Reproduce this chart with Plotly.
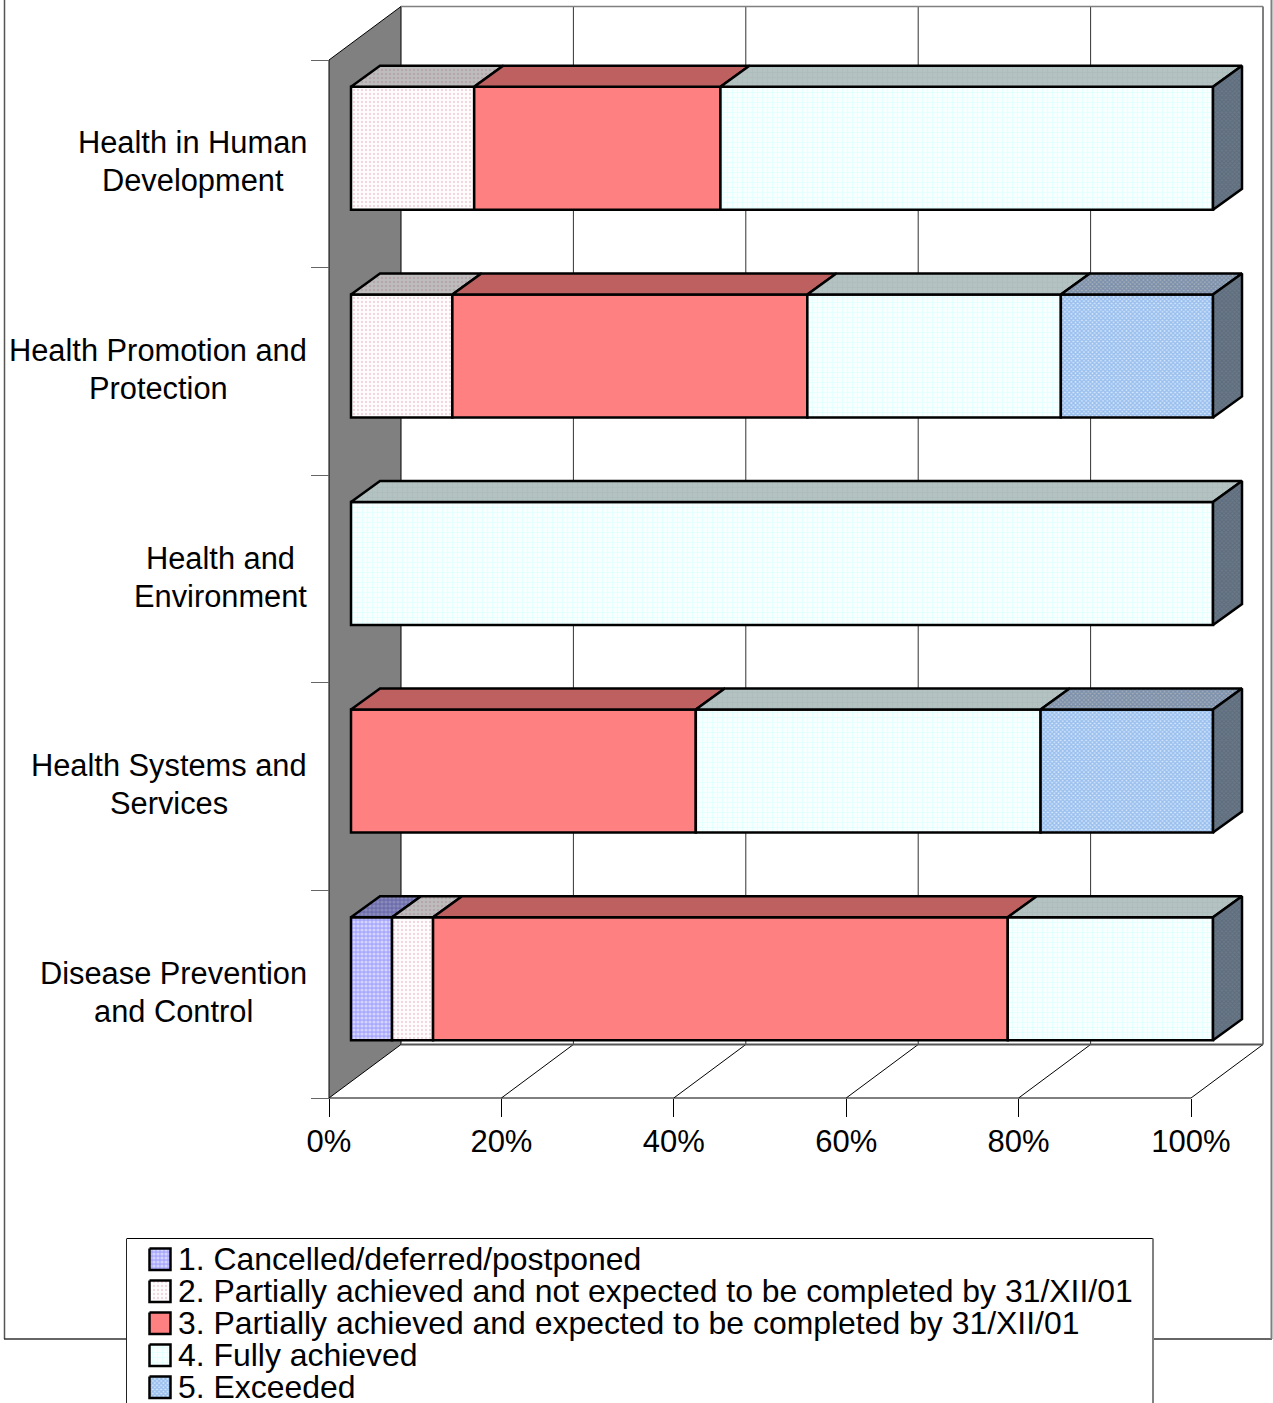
import plotly.graph_objects as go

# Categories listed from the bottom band upwards
categories = [
    "Disease Prevention<br>and Control",
    "Health Systems and<br>Services",
    "Health and<br>Environment",
    "Health Promotion and<br>Protection",
    "Health in Human<br>Development",
]
# Horizontal centre of each two-line label, in page pixels
label_centres_px = [173.5, 169, 220.5, 158, 192.5]
series_names = [
    "1. Cancelled/deferred/postponed",
    "2. Partially achieved and not expected to be completed by 31/XII/01",
    "3. Partially achieved and expected to be completed by 31/XII/01",
    "4. Fully achieved",
    "5. Exceeded",
]
cancelled = [4.76, None, None, None, None]
partial_not_expected = [4.76, None, None, 11.76, 14.29]
partial_expected = [66.67, 40.0, None, 41.18, 28.57]
fully_achieved = [23.81, 40.0, 100.0, 29.41, 57.14]
exceeded = [None, 20.0, None, 17.65, None]
x_ticks = [0, 20, 40, 60, 80, 100]

W, H = 1273, 1403
PX_PER_PCT = 8.62
PX_PER_BAND = 207.6
X0_PX, Y0_PX = 329, 1098
FONT = "Liberation Sans"
FS = 31
LEGEND_FS = 31.93
LABEL_FS = 30.8


def px_x(px):
    return (px - X0_PX) / PX_PER_PCT


def px_y(py):
    return (Y0_PX - py) / PX_PER_BAND - 0.5


WALL_DX = 72 / PX_PER_PCT
WALL_DY = 53.5 / PX_PER_BAND
FRONT_DX = 22 / PX_PER_PCT
BAR_DX = 29 / PX_PER_PCT
BAR_DY = 21 / PX_PER_BAND
BAR_H = 123 / PX_PER_BAND
BAR_SHIFT = 15.5 / PX_PER_BAND

styles = [
    dict(front=dict(shape=".", bgcolor="#a8a8ff", fgcolor="#ffffff", size=4, solidity=0.5),
         top=dict(shape=".", bgcolor="#6c6cae", fgcolor="#a8a8c4", size=4, solidity=0.5),
         side=dict(shape="x", bgcolor="#666688", fgcolor="#4a4a70", size=3, solidity=0.5)),
    dict(front=dict(shape=".", bgcolor="#fefcfc", fgcolor="#e4aebf", size=4, solidity=0.25),
         top=dict(shape=".", bgcolor="#bdbdbd", fgcolor="#ad8e9a", size=4, solidity=0.3),
         side=dict(shape="x", bgcolor="#707070", fgcolor="#606060", size=3, solidity=0.5)),
    dict(front=dict(shape="", bgcolor="#ff8080"),
         top=dict(shape="", bgcolor="#bf6060"),
         side=dict(shape="", bgcolor="#804040")),
    dict(front=dict(shape="+", bgcolor="#f8ffff", fgcolor="#ccffff", size=5, solidity=0.3),
         top=dict(shape="+", bgcolor="#b4c2c2", fgcolor="#a4b8b6", size=5, solidity=0.3),
         side=dict(shape="x", bgcolor="#6c7884", fgcolor="#48607c", size=3, solidity=0.5)),
    dict(front=dict(shape="x", bgcolor="#d8e8fb", fgcolor="#5a96e2", size=3, solidity=0.7),
         top=dict(shape="x", bgcolor="#aab0b8", fgcolor="#4c70a0", size=3, solidity=0.7),
         side=dict(shape="x", bgcolor="#6c7884", fgcolor="#48607c", size=3, solidity=0.5)),
]
all_series = [cancelled, partial_not_expected, partial_expected, fully_achieved, exceeded]

fig = go.Figure()

# Front faces are ordinary horizontal bars stacked from a running base
running = [0.0] * len(categories)
faces_top = [[[], []] for _ in all_series]
faces_side = [[[], []] for _ in all_series]
y_centres = [i + BAR_SHIFT for i in range(len(categories))]

for s, values in enumerate(all_series):
    bases = [r + FRONT_DX for r in running]
    fig.add_trace(go.Bar(
        orientation="h", x=values, y=y_centres, base=bases, width=BAR_H,
        name=series_names[s], showlegend=False,
        marker=dict(color=styles[s]["front"]["bgcolor"],
                    line=dict(color="black", width=2.5),
                    pattern=styles[s]["front"]),
    ))
    for i, v in enumerate(values):
        if v is None:
            continue
        x1, x2 = bases[i], bases[i] + v
        top = y_centres[i] + BAR_H / 2
        bottom = y_centres[i] - BAR_H / 2
        # Receding top face of this segment
        faces_top[s][0] += [x1, x1 + BAR_DX, x2 + BAR_DX, x2, x1, None]
        faces_top[s][1] += [top, top + BAR_DY, top + BAR_DY, top, top, None]
        # Right-hand end cap only where the stack reaches its full length
        later = [all_series[k][i] for k in range(s + 1, len(all_series))]
        if all(w is None for w in later):
            faces_side[s][0] += [x2, x2 + BAR_DX, x2 + BAR_DX, x2, x2, None]
            faces_side[s][1] += [top, top + BAR_DY, bottom + BAR_DY, bottom, top, None]
        running[i] += v

for s in range(len(all_series)):
    for faces, key in ((faces_top, "top"), (faces_side, "side")):
        xs, ys = faces[s]
        if not xs:
            continue
        st = styles[s][key]
        fig.add_trace(go.Scatter(
            x=xs, y=ys, mode="lines", fill="toself", showlegend=False, hoverinfo="skip",
            fillcolor=st["bgcolor"], fillpattern=st,
            line=dict(color="black", width=2.5),
        ))

shapes = []


def add_line(x0, y0, x1, y1, color="black", width=1):
    shapes.append(dict(type="line", layer="below", xref="x", yref="y",
                       x0=x0, y0=y0, x1=x1, y1=y1, line=dict(color=color, width=width)))


# Outer frame of the chart area, partly hidden by the legend box
add_line(px_x(4.5), px_y(-2), px_x(4.5), px_y(1339), "#555555", 1.5)
add_line(px_x(4), px_y(1339), px_x(1272), px_y(1339), "#333333", 1.5)
add_line(px_x(1271.5), px_y(-2), px_x(1271.5), px_y(1339), "#808080", 2)

# Side wall
y_lo, y_hi = -0.5, len(categories) - 0.5
shapes.append(dict(
    type="path", layer="below", xref="x", yref="y",
    path=f"M 0 {y_lo} L 0 {y_hi} L {WALL_DX} {y_hi + WALL_DY} L {WALL_DX} {y_lo + WALL_DY} Z",
    fillcolor="#808080", line=dict(color="black", width=1),
))
# Back wall grid and floor
for t in x_ticks[1:]:
    add_line(t + WALL_DX, y_lo + WALL_DY, t + WALL_DX, y_hi + WALL_DY, "#333333" if t < 100 else "black", 1)
    add_line(t, y_lo, t + WALL_DX, y_lo + WALL_DY, "black", 1)
add_line(WALL_DX, y_hi + WALL_DY, 100 + WALL_DX, y_hi + WALL_DY, "#808080", 1.5)
add_line(WALL_DX, y_lo + WALL_DY, 100 + WALL_DX, y_lo + WALL_DY, "#555555", 2)
add_line(0, y_lo, 100, y_lo, "black", 1)

# Legend box runs off the bottom of the page
shapes.append(dict(type="rect", layer="below", xref="x", yref="y",
                   x0=px_x(127), x1=px_x(1153), y0=px_y(1420), y1=px_y(1238.5),
                   fillcolor="white", line=dict(width=0)))
add_line(px_x(127), px_y(1238.5), px_x(1153), px_y(1238.5), "black", 1)
add_line(px_x(126.5), px_y(1238.5), px_x(126.5), px_y(1420), "#222222", 1)
add_line(px_x(1153), px_y(1238.5), px_x(1153), px_y(1420), "#808080", 2)

annotations = []
# Each label line is placed on its own so the line pitch stays tight
for i, label in enumerate(categories):
    centre_px = Y0_PX - (i + 0.5) * PX_PER_BAND - 2
    for j, line in enumerate(label.split("<br>")):
        annotations.append(dict(
            xref="x", yref="y", x=px_x(label_centres_px[i]), y=px_y(centre_px - 19 + 38 * j),
            text=line, showarrow=False, xanchor="center", yanchor="middle",
            font=dict(family=FONT, size=LABEL_FS, color="black"),
        ))

for s, name in enumerate(series_names):
    top_px = 1248.5 + 32 * s
    x1, x2 = px_x(149.5), px_x(170.5)
    y1, y2 = px_y(top_px), px_y(top_px + 21.5)
    st = styles[s]["front"]
    fig.add_trace(go.Scatter(
        x=[x1, x2, x2, x1, x1], y=[y1, y1, y2, y2, y1], mode="lines", fill="toself",
        showlegend=False, hoverinfo="skip", fillcolor=st["bgcolor"], fillpattern=st,
        line=dict(color="black", width=2.5),
    ))
    annotations.append(dict(
        xref="x", yref="y", x=px_x(176), y=px_y(top_px + 10.5), text=name, showarrow=False,
        xanchor="left", yanchor="middle", align="left",
        font=dict(family=FONT, size=LEGEND_FS, color="black"),
    ))

fig.update_layout(
    width=W, height=H, margin=dict(l=0, r=0, t=0, b=0), autosize=False,
    paper_bgcolor="white", plot_bgcolor="white", barmode="overlay", showlegend=False,
    shapes=shapes, annotations=annotations,
    xaxis=dict(
        range=[px_x(0), px_x(W)], domain=[0, 1], anchor="free", position=(H - Y0_PX) / H,
        tickmode="array", tickvals=x_ticks, ticktext=[f"{t}%" for t in x_ticks],
        ticks="outside", ticklen=18, tickcolor="black", tickwidth=1, ticklabelstandoff=-2,
        tickfont=dict(family=FONT, size=FS, color="black"),
        showgrid=False, zeroline=False, showline=False,
    ),
    yaxis=dict(
        range=[px_y(H), px_y(0)], domain=[0, 1], anchor="free", position=X0_PX / W,
        tickmode="array", tickvals=[i - 0.5 for i in range(len(categories) + 1)],
        ticktext=[""] * (len(categories) + 1),
        ticks="outside", ticklen=18, tickcolor="#666666", tickwidth=1,
        showgrid=False, zeroline=False, showline=False,
    ),
)

fig.write_html("out.html")
